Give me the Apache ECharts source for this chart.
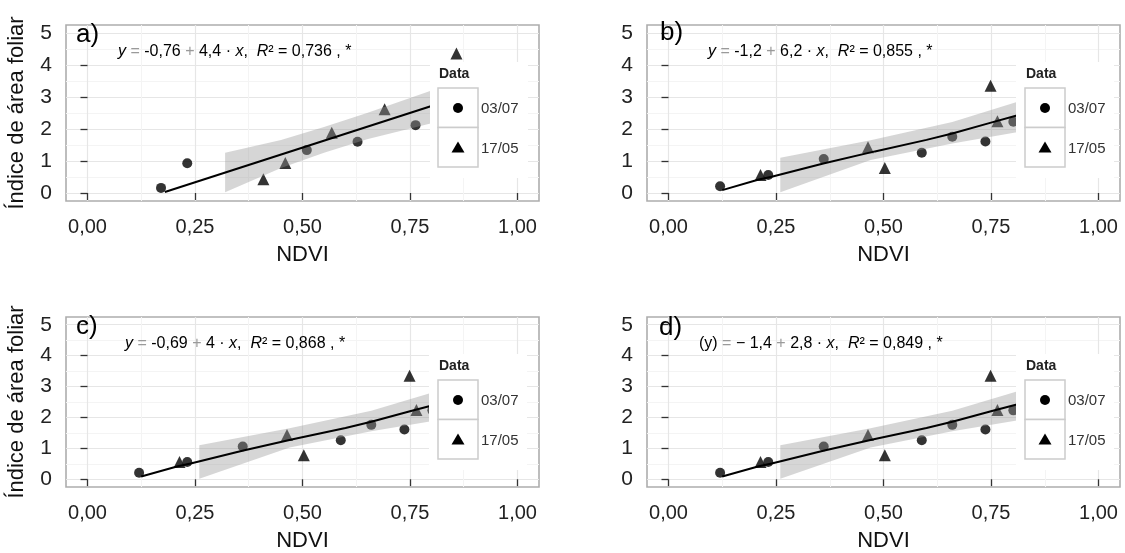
<!DOCTYPE html>
<html>
<head>
<meta charset="utf-8">
<script src="https://cdn.jsdelivr.net/npm/echarts@6/dist/echarts.min.js"></script>
<style>
  html, body { margin: 0; background: #fff; }
  #chart { width: 1125px; height: 553px; }
</style>
</head>
<body>
<div id="chart"></div>
<script>
// tick values
const xTicks = [0, 0.25, 0.5, 0.75, 1];
const xMinor = [0.125, 0.375, 0.625, 0.875];
const yTicks = [0, 1, 2, 3, 4, 5];
const yMinor = [0.5, 1.5, 2.5, 3.5, 4.5];
const groupNames = ['03/07', '17/05'];

// panel a
const aCircX = [0.171, 0.232, 0.510, 0.628, 0.763];
const aCircY = [0.16, 0.93, 1.34, 1.60, 2.12];
const aTriX = [0.409, 0.460, 0.568, 0.691, 0.858];
const aTriY = [0.43, 0.94, 1.88, 2.62, 4.36];
const aLineX = [0.18, 0.80];
const aLineY = [0.03, 2.72];
const aRibX = [0.32, 0.45, 0.55, 0.65, 0.80];
const aRibLo = [0.02, 0.78, 1.26, 1.68, 2.18];
const aRibHi = [1.26, 1.66, 2.06, 2.50, 3.20];

// panels b, c, d (same points)
const bCircX = [0.120, 0.232, 0.361, 0.589, 0.660, 0.737, 0.802];
const bCircY = [0.21, 0.56, 1.06, 1.26, 1.76, 1.61, 2.23];
const bTriX = [0.214, 0.464, 0.503, 0.749, 0.765];
const bTriY = [0.56, 1.43, 0.78, 3.35, 2.24];
const bLineX = [0.125, 0.21, 0.24, 0.36, 0.48, 0.60, 0.66, 0.75, 0.81];
const bLineY = [0.09, 0.42, 0.51, 0.92, 1.30, 1.66, 1.86, 2.20, 2.42];
const bRibX = [0.26, 0.47, 0.66, 0.81];
const bRibLo = [0.02, 1.03, 1.55, 1.90];
const bRibHi = [1.10, 1.65, 2.22, 2.84];

const panels = [
  {lab: 'a)', left: 66, top: 25, labX: 10, labY: 10, eqX: 52, legL: 364, keyL: 372, yTitle: true,
   eq: '{i|y} {g|=} -0,76 {g|+} 4,4 · {i|x},  {i|R}² = 0,736 , *',
   d: [aCircX, aCircY, aTriX, aTriY, aLineX, aLineY, aRibX, aRibLo, aRibHi]},
  {lab: 'b)', left: 647, top: 25, labX: 13, labY: 8, eqX: 61, legL: 369, keyL: 378, yTitle: false,
   eq: '{i|y} {g|=} -1,2 {g|+} 6,2 · {i|x},  {i|R}² = 0,855 , *',
   d: [bCircX, bCircY, bTriX, bTriY, bLineX, bLineY, bRibX, bRibLo, bRibHi]},
  {lab: 'c)', left: 66, top: 317, labX: 10, labY: 10, eqX: 59, legL: 363, keyL: 372, yTitle: true,
   eq: '{i|y} {g|=} -0,69 {g|+} 4 · {i|x},  {i|R}² = 0,868 , *',
   d: [bCircX, bCircY, bTriX, bTriY, bLineX, bLineY, bRibX, bRibLo, bRibHi]},
  {lab: 'd)', left: 647, top: 317, labX: 12, labY: 11, eqX: 52, legL: 369, keyL: 378, yTitle: false,
   eq: '(y) {g|=} − 1,4 {g|+} 2,8 · {i|x},  {i|R}² = 0,849 , *',
   d: [bCircX, bCircY, bTriX, bTriY, bLineX, bLineY, bRibX, bRibLo, bRibHi]}
];

const W = 473, H = 176;
const font = "'Liberation Sans', Arial, sans-serif";
const zip = (xs, ys) => xs.map((x, i) => [x, ys[i]]);

const grid = [], xAxis = [], yAxis = [], series = [], graphic = [];

panels.forEach((p, i) => {
  grid.push({left: p.left, top: p.top, width: W, height: H, show: true,
    borderColor: '#adadad', borderWidth: 1.6, backgroundColor: '#fff'});

  xAxis.push({
    type: 'value', gridIndex: i, min: -0.05, max: 1.05,
    name: 'NDVI', nameLocation: 'middle', nameGap: 43,
    nameTextStyle: {fontSize: 22, color: '#111', fontFamily: font},
    axisLine: {show: false},
    axisTick: {show: true, customValues: xTicks, length: 7, lineStyle: {color: '#333', width: 1.3}},
    axisLabel: {customValues: xTicks, margin: 16, fontSize: 20, color: '#222', fontFamily: font,
      formatter: v => v.toFixed(2).replace('.', ',')},
    splitLine: {show: true, lineStyle: {color: '#e6e6e6', width: 1.2}}
  });
  xAxis.push({
    type: 'value', gridIndex: i, min: -0.05, max: 1.05, position: 'top',
    axisLine: {show: false}, axisLabel: {show: false},
    axisTick: {show: false, customValues: xMinor},
    splitLine: {show: true, lineStyle: {color: '#f4f4f4', width: 1}}
  });
  yAxis.push({
    type: 'value', gridIndex: i, min: -0.25, max: 5.25,
    name: p.yTitle ? 'Índice de área foliar' : '', nameLocation: 'middle', nameGap: 38,
    nameTextStyle: {fontSize: 22, color: '#111', fontFamily: font},
    axisLine: {show: false},
    axisTick: {show: true, customValues: yTicks, length: 7, lineStyle: {color: '#333', width: 1.3}},
    axisLabel: {customValues: yTicks, margin: 14, fontSize: 21, color: '#222', fontFamily: font},
    splitLine: {show: true, lineStyle: {color: '#e6e6e6', width: 1.2}}
  });
  yAxis.push({
    type: 'value', gridIndex: i, min: -0.25, max: 5.25, position: 'right',
    axisLine: {show: false}, axisLabel: {show: false},
    axisTick: {show: false, customValues: yMinor},
    splitLine: {show: true, lineStyle: {color: '#f4f4f4', width: 1}}
  });

  const [cx, cy, tx, ty, lx, ly, rx, rlo, rhi] = p.d;
  const xi = 2 * i, yi = 2 * i;
  series.push({type: 'scatter', name: groupNames[0], xAxisIndex: xi, yAxisIndex: yi,
    symbol: 'circle', symbolSize: 10, itemStyle: {color: '#000'}, z: 2, data: zip(cx, cy)});
  series.push({type: 'scatter', name: groupNames[1], xAxisIndex: xi, yAxisIndex: yi,
    symbol: 'triangle', symbolSize: 12, itemStyle: {color: '#000'}, z: 2, data: zip(tx, ty)});
  series.push({type: 'custom', xAxisIndex: xi, yAxisIndex: yi, z: 3, silent: true,
    data: [[rx[0], rlo[0]]],
    renderItem: (params, api) => {
      const top = rx.map((x, k) => api.coord([x, rhi[k]]));
      const bot = rx.map((x, k) => api.coord([x, rlo[k]])).reverse();
      return {type: 'polygon', shape: {points: top.concat(bot)},
        style: {fill: 'rgba(153,153,153,0.4)'}};
    }});
  series.push({type: 'line', xAxisIndex: xi, yAxisIndex: yi, z: 4, silent: true,
    symbol: 'none', lineStyle: {color: '#000', width: 2}, data: zip(lx, ly)});

  // panel label + equation
  graphic.push({type: 'text', z: 100, left: p.left + p.labX, top: p.top + p.labY - 13,
    style: {text: p.lab, fontSize: 26, fill: '#000', fontFamily: font}});
  graphic.push({type: 'text', z: 100, left: p.left + p.eqX, top: p.top + 29 - 10,
    style: {text: p.eq, fontSize: 16, fill: '#000', fontFamily: font,
      rich: {i: {fontStyle: 'italic', fontSize: 16, fill: '#000', fontFamily: font},
             g: {fontSize: 16, fill: '#9a9a9a', fontFamily: font}}}});

  // legend box
  const lx0 = p.left + p.legL, ly0 = p.top + 37;
  const kx = p.left + p.keyL, ky = p.top + 63;
  graphic.push({type: 'rect', z: 100, shape: {x: lx0, y: ly0, width: 98, height: 116},
    style: {fill: '#fff'}});
  graphic.push({type: 'text', z: 101, x: kx + 1, y: p.top + 49,
    style: {text: 'Data', fontSize: 14, fontWeight: 'bold', fill: '#222', fontFamily: font, verticalAlign: 'middle'}});
  groupNames.forEach((nm, k) => {
    const by = ky + k * 39.5;
    graphic.push({type: 'rect', z: 101, shape: {x: kx, y: by, width: 40, height: 39.5},
      style: {fill: '#fff', stroke: '#cccccc', lineWidth: 1.5}});
    const cxk = kx + 20, cyk = by + 20;
    if (k === 0) {
      graphic.push({type: 'circle', z: 102, shape: {cx: cxk, cy: cyk, r: 5}, style: {fill: '#000'}});
    } else {
      graphic.push({type: 'polygon', z: 102,
        shape: {points: [[cxk, cyk - 6], [cxk + 6.5, cyk + 5], [cxk - 6.5, cyk + 5]]}, style: {fill: '#000'}});
    }
    graphic.push({type: 'text', z: 102, x: kx + 43, y: cyk + 1,
      style: {text: nm, fontSize: 15, fill: '#333', fontFamily: font, verticalAlign: 'middle'}});
  });
});

const chart = echarts.init(document.getElementById('chart'));
chart.setOption({
  backgroundColor: '#fff',
  animation: false,
  textStyle: {fontFamily: font},
  grid, xAxis, yAxis, series, graphic
});
</script>
</body>
</html>
